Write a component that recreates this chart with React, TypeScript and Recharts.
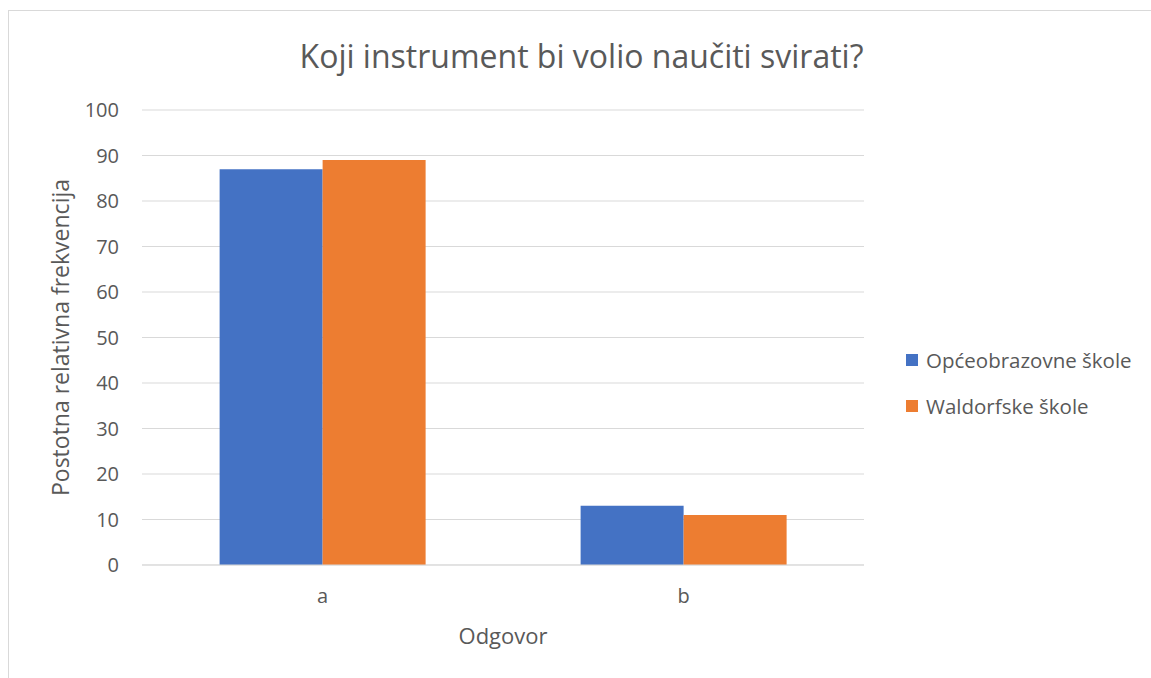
import { BarChart, Bar, XAxis, YAxis, CartesianGrid, Legend } from 'recharts';

const categories = ['a', 'b'];
const opceobrazovne = [87, 13];
const waldorfske = [89, 11];
const yTicks = [0, 10, 20, 30, 40, 50, 60, 70, 80, 90, 100];

const SERIES = [
  { key: 'opce', name: 'Općeobrazovne škole', color: '#4472C4' },
  { key: 'wald', name: 'Waldorfske škole', color: '#ED7D31' },
];

const FONT = '"Open Sans", "Noto Sans", sans-serif';
const TEXT = '#595959';

const data = categories.map((c, i) => ({
  name: c,
  opce: opceobrazovne[i],
  wald: waldorfske[i],
}));

const LegendBox = () => (
  <div style={{ position: 'absolute', left: 897, top: 326, fontFamily: FONT }}>
    {SERIES.map((s) => (
      <div
        key={s.key}
        style={{ display: 'flex', alignItems: 'center', height: 46, fontSize: 20.5, color: TEXT }}
      >
        <span style={{ width: 12, height: 12, background: s.color, marginRight: 8, display: 'inline-block' }} />
        {s.name}
      </div>
    ))}
  </div>
);

export default function App() {
  return (
    <>
      <style>{'body{margin:0;overflow:hidden}'}</style>
      <div
        style={{
          position: 'absolute',
          left: 8,
          top: 10,
          width: 1143,
          height: 668,
          borderTop: '1px solid #d9d9d9',
          borderLeft: '1px solid #d9d9d9',
          fontFamily: FONT,
        }}
      >
        <div
          style={{
            position: 'absolute',
            top: 25,
            left: 0,
            width: 1145,
            textAlign: 'center',
            fontSize: 32,
            color: TEXT,
            lineHeight: '40px',
            whiteSpace: 'nowrap',
          }}
        >
          Koji instrument bi volio naučiti svirati?
        </div>
        <BarChart
          width={1134}
          height={657}
          data={data}
          margin={{ top: 99, right: 279, left: 23, bottom: 23 }}
          barCategoryGap="21.5%"
          barGap={0}
        >
          <CartesianGrid vertical={false} stroke="#d9d9d9" />
          <XAxis
            dataKey="name"
            height={80}
            stroke="#d9d9d9"
            tickLine={false}
            tickMargin={18}
            tick={{ fill: TEXT, fontSize: 20, fontFamily: FONT }}
            label={({ viewBox }: any) => (
              <text
                x={viewBox.x + viewBox.width / 2}
                y={viewBox.y + 70}
                textAnchor="middle"
                dominantBaseline="central"
                fill={TEXT}
                fontSize={22}
                fontFamily={FONT}
              >
                Odgovor
              </text>
            )}
          />
          <YAxis
            width={110}
            domain={[0, 100]}
            ticks={yTicks}
            axisLine={false}
            tickLine={false}
            tickMargin={17}
            tick={{ fill: TEXT, fontSize: 20, fontFamily: FONT }}
            label={({ viewBox }: any) => {
              const cx = 51;
              const cy = viewBox.y + viewBox.height / 2;
              return (
                <text
                  x={cx}
                  y={cy}
                  transform={`rotate(-90, ${cx}, ${cy})`}
                  textAnchor="middle"
                  dominantBaseline="central"
                  fill={TEXT}
                  fontSize={23}
                  fontFamily={FONT}
                >
                  Postotna relativna frekvencija
                </text>
              );
            }}
          />
          <Legend content={() => null} />
          {SERIES.map((s) => (
            <Bar key={s.key} dataKey={s.key} name={s.name} fill={s.color} isAnimationActive={false} />
          ))}
        </BarChart>
        <LegendBox />
      </div>
    </>
  );
}
